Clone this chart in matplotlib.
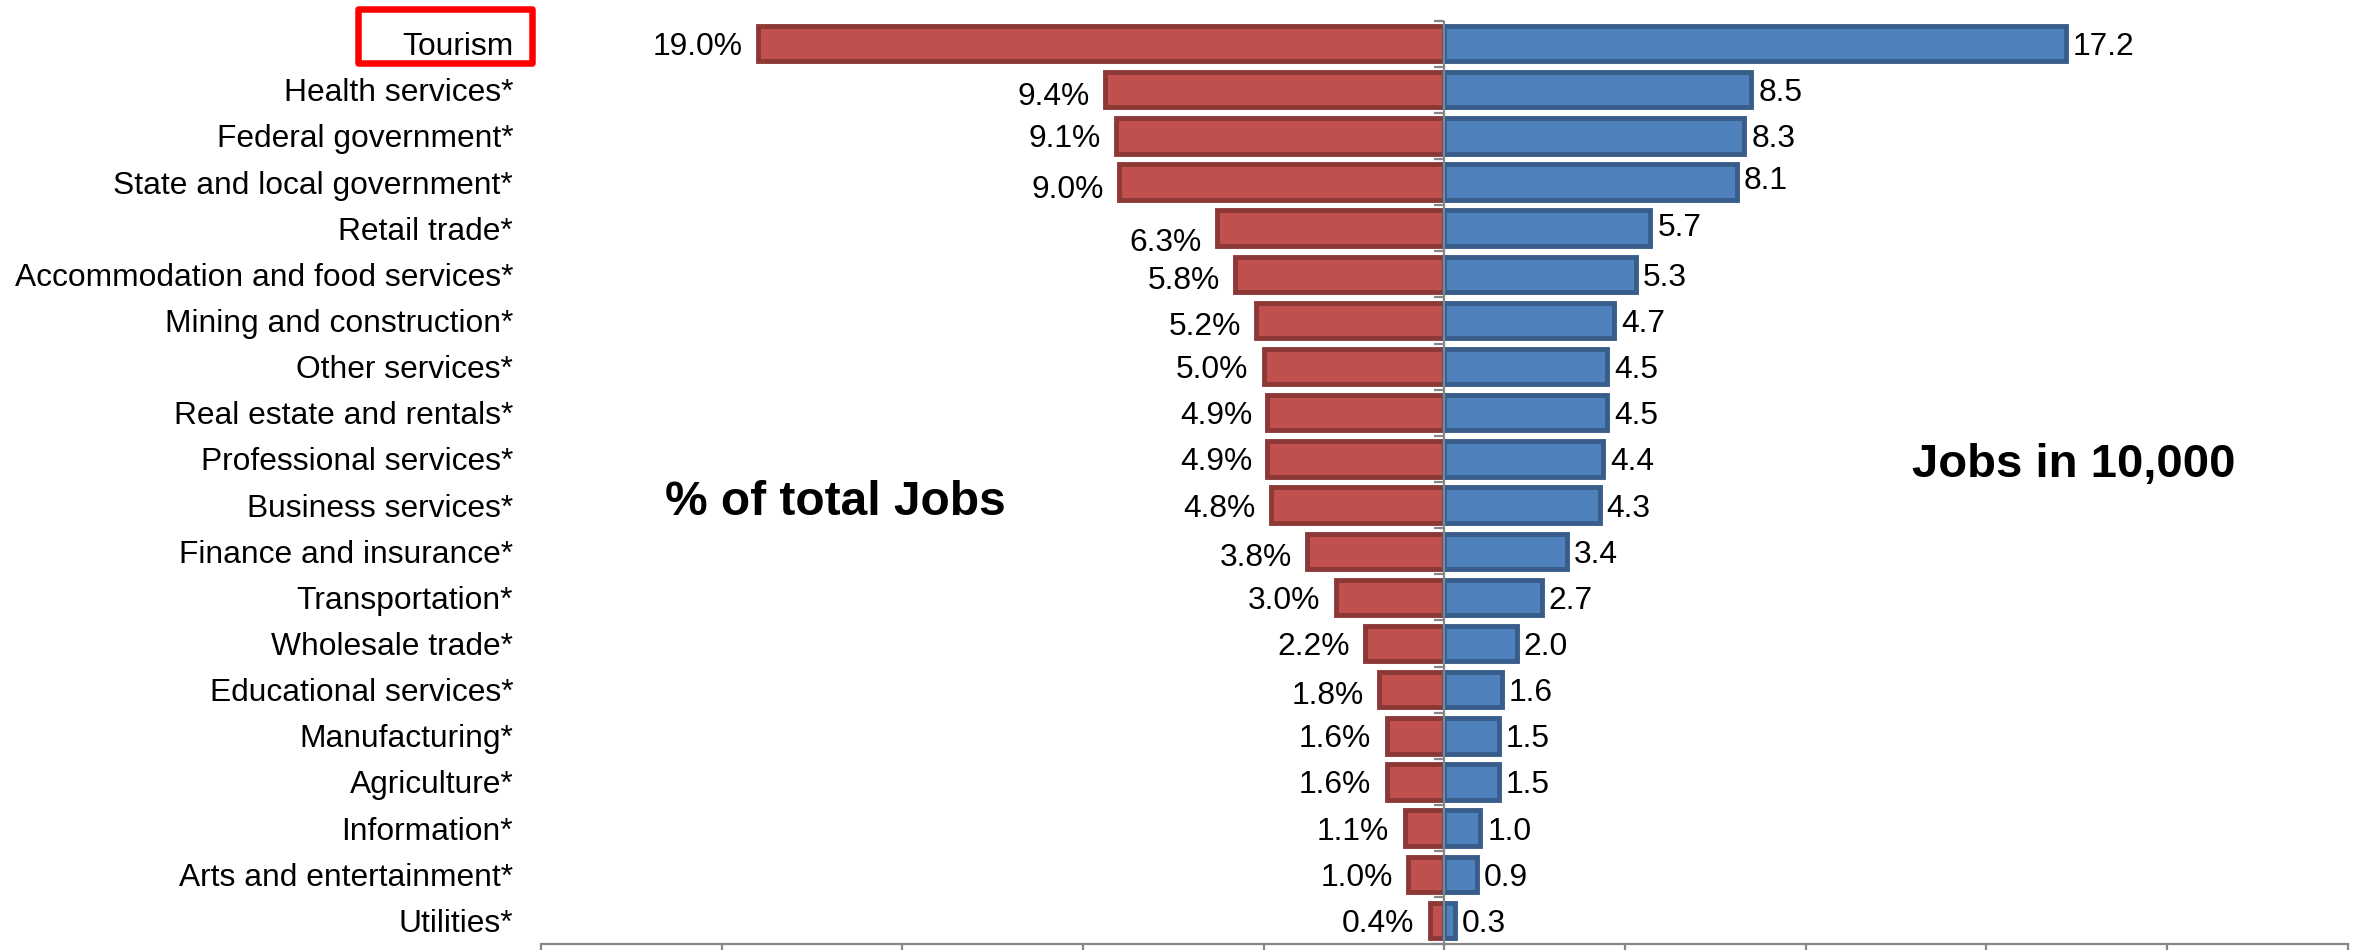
import matplotlib.pyplot as plt
import matplotlib.markers as mmarkers
from matplotlib.patches import Rectangle
import numpy as np

plt.rcParams["font.family"] = ["Liberation Sans", "DejaVu Sans"]

industries = [
	"Tourism", "Health services*", "Federal government*", "State and local government*",
	"Retail trade*", "Accommodation and food services*", "Mining and construction*",
	"Other services*", "Real estate and rentals*", "Professional services*",
	"Business services*", "Finance and insurance*", "Transportation*", "Wholesale trade*",
	"Educational services*", "Manufacturing*", "Agriculture*", "Information*",
	"Arts and entertainment*", "Utilities*",
]
pct_of_jobs = [19.0, 9.4, 9.1, 9.0, 6.3, 5.8, 5.2, 5.0, 4.9, 4.9,
	4.8, 3.8, 3.0, 2.2, 1.8, 1.6, 1.6, 1.1, 1.0, 0.4]
jobs_10k = [17.2, 8.5, 8.3, 8.1, 5.7, 5.3, 4.7, 4.5, 4.5, 4.4,
	4.3, 3.4, 2.7, 2.0, 1.6, 1.5, 1.5, 1.0, 0.9, 0.3]

# a few labels sit slightly off the bar centre (points, positive = down)
left_nudge = {1: 3, 3: 3, 4: 8, 5: 2.5, 6: 2, 11: 2, 14: 2}
right_nudge = {3: -3, 4: -2.5}

W, H = 2357, 950
fig = plt.figure(figsize=(W / 100, H / 100), dpi=100)
ax = fig.add_axes([541 / W, 1 - 943.5 / H, (2347.7 - 541) / W, (943.5 - 20.5) / H])

n = len(industries)
y = np.arange(n)[::-1]
grey = "#868686"
fs = 22.9

ax.barh(y, -np.array(pct_of_jobs), height=0.767, color="#C0504D",
	edgecolor="#8C3836", linewidth=3.5, zorder=2)
ax.barh(y, jobs_10k, height=0.767, color="#4F81BD",
	edgecolor="#385D8A", linewidth=3.5, zorder=2)

for i, (p, j) in enumerate(zip(pct_of_jobs, jobs_10k)):
	ax.annotate(f"{p:.1f}%", xy=(-p, y[i]), xytext=(-11, -left_nudge.get(i, 0)),
		textcoords="offset points", ha="right", va="center_baseline", fontsize=fs)
	ax.annotate(f"{j:.1f}", xy=(j, y[i]), xytext=(5, -right_nudge.get(i, 0)),
		textcoords="offset points", ha="left", va="center_baseline", fontsize=fs)

# centre axis with small ticks between categories
ax.axvline(0, color=grey, linewidth=1.6, zorder=3)
ax.plot(np.zeros(n + 1), np.arange(n + 1) - 0.5, linestyle="none",
	marker=mmarkers.TICKLEFT, markersize=7, markeredgewidth=1.6,
	color=grey, clip_on=False, zorder=3)

ax.set_xlim(-25, 25)
ax.set_ylim(-0.5, n - 0.5)
ax.set_xticks(np.arange(-25, 26, 5))
ax.tick_params(axis="x", length=6, width=1.6, color=grey, labelbottom=False)
ax.set_yticks(y, industries, fontsize=fs)
ax.tick_params(axis="y", length=0, pad=20)
for side in ["left", "right", "top"]:
	ax.spines[side].set_visible(False)
ax.spines["bottom"].set_color(grey)
ax.spines["bottom"].set_linewidth(1.6)

fig.text(665 / W, 1 - 515 / H, "% of total Jobs", fontsize=34.5,
	fontweight="bold", ha="left", va="baseline")
fig.text(1912 / W, 1 - 477.3 / H, "Jobs in 10,000", fontsize=34,
	fontweight="bold", ha="left", va="baseline")

# highlight box round the first category
box = Rectangle((358.3 / W, 1 - 63.4 / H), (531.7 - 358.3) / W, (63.4 - 9.3) / H,
	transform=fig.transFigure, fill=False, edgecolor="#FF0000",
	linewidth=4.7, joinstyle="round")
fig.add_artist(box)

fig.savefig("out.png", dpi=100)
